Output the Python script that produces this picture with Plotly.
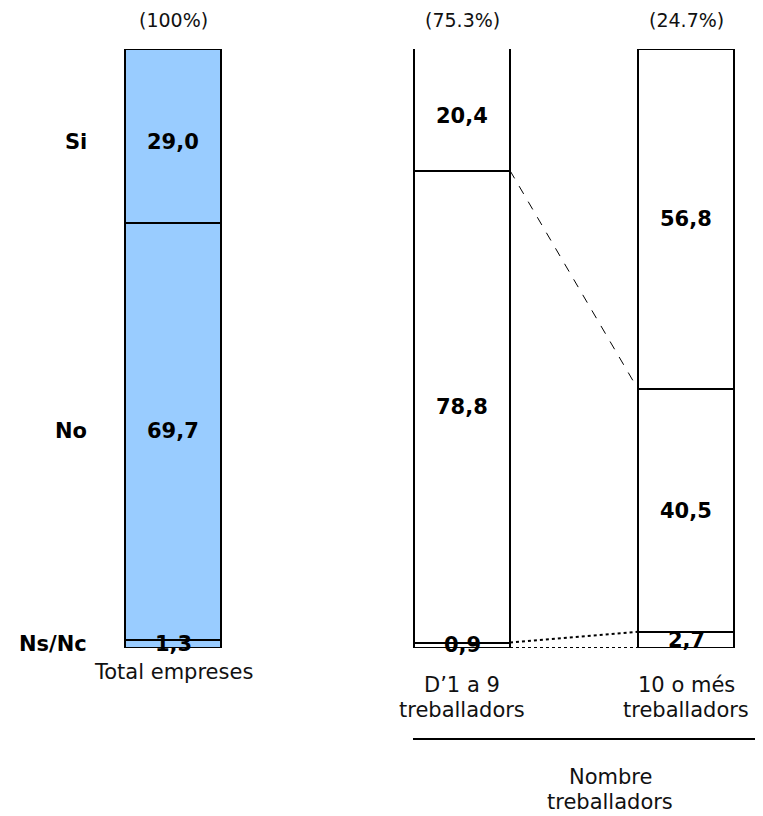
import plotly.graph_objects as go

# Data
groups = [['Total empreses'], ['D’1 a 9', 'treballadors'], ['10 o més', 'treballadors']]
shares = ['(100%)', '(75.3%)', '(24.7%)']
answers = ['Ns/Nc', 'No', 'Si']
ns_nc = [1.3, 0.9, 2.7]
no = [69.7, 78.8, 40.5]
si = [29.0, 20.4, 56.8]

# Layout: everything below is in page pixels of the reference
# (the page body adds an 8px offset, so the x axis starts at 8)
W, H = 763, 816
OFF = 8
PLOT_TOP, PLOT_BOTTOM = 49, 648
xpos = [173, 462, 686]
bw = 96
fills = ['#99CCFF', 'white', 'white']
FONT = 'DejaVu Sans'
INK = '#111111'
# the top value labels of the first two bars sit a bit below the middle
si_shift = [-6, -6, 0]


def py(ypx):
    # reference pixel row -> paper coordinate
    return (PLOT_BOTTOM - ypx) / (PLOT_BOTTOM - PLOT_TOP)


def fmt(v):
    return f'{v:.1f}'.replace('.', ',')


fig = go.Figure()
for vals in (ns_nc, no, si):
    fig.add_trace(go.Bar(
        x=xpos, y=vals, width=bw,
        marker=dict(color=fills, line=dict(color='black', width=2)),
        hoverinfo='skip', showlegend=False, cliponaxis=False,
    ))

# connectors between the two size groups
left, right = xpos[1] + bw / 2, xpos[2] - bw / 2
cum1 = [0, ns_nc[1], ns_nc[1] + no[1]]
cum2 = [0, ns_nc[2], ns_nc[2] + no[2]]
for i, (a, b) in enumerate(zip(cum1, cum2)):
    fig.add_trace(go.Scatter(
        x=[left, right], y=[a, b], mode='lines', cliponaxis=False,
        line=dict(color='black', width=1 if i == 2 else 2, dash='dash' if i == 2 else 'dot'),
        hoverinfo='skip', showlegend=False,
    ))

annotations = []
# values inside the bars
for j in range(3):
    base = 0
    for k, vals in enumerate((ns_nc, no, si)):
        annotations.append(dict(
            x=xpos[j], y=base + vals[j] / 2, xref='x', yref='y', yanchor='middle',
            yshift=si_shift[j] if k == 2 else 0,
            text='<b>' + fmt(vals[j]) + '</b>',
            showarrow=False, font=dict(size=21, color='black', family=FONT),
        ))
        base += vals[j]

# row labels, right aligned left of the first bar
base = 0
for k, (lab, vals) in enumerate(zip(answers, (ns_nc, no, si))):
    annotations.append(dict(
        x=89, y=base + vals[0] / 2, xref='x', yref='y', xanchor='right', yanchor='middle',
        yshift=si_shift[0] if k == 2 else 0,
        text='<b>' + lab + '</b>',
        showarrow=False, font=dict(size=21, color='black', family=FONT),
    ))
    base += vals[0]

# shares on top
for x, s in zip(xpos, shares):
    annotations.append(dict(
        x=x, y=py(20), xref='x', yref='paper', yanchor='middle', text=s, showarrow=False,
        font=dict(size=19, color=INK, family=FONT),
    ))

# group labels under the bars, one annotation per line
for x, lines in zip(xpos, groups):
    first = 672 if len(lines) == 1 else 685
    for k, line in enumerate(lines):
        annotations.append(dict(
            x=x, y=py(first + 25 * k), xref='x', yref='paper', yanchor='middle', text=line,
            showarrow=False, font=dict(size=21, color=INK, family=FONT),
        ))
for k, line in enumerate(['Nombre', 'treballadors']):
    annotations.append(dict(
        x=610, y=py(777 + 25 * k), xref='x', yref='paper', yanchor='middle', text=line,
        showarrow=False, font=dict(size=21, color=INK, family=FONT),
    ))

fig.update_layout(
    width=W, height=H,
    margin=dict(l=0, r=0, t=PLOT_TOP - OFF, b=H - (PLOT_BOTTOM - OFF)),
    barmode='stack', bargap=0,
    plot_bgcolor='white', paper_bgcolor='white',
    xaxis=dict(range=[OFF, W + OFF], visible=False, fixedrange=True),
    yaxis=dict(range=[0, 100], visible=False, fixedrange=True),
    annotations=annotations,
    shapes=[dict(type='line', xref='x', yref='paper', x0=413, x1=760, y0=py(739), y1=py(739),
                 line=dict(color='black', width=2))],
)

fig.write_html('out.html')
